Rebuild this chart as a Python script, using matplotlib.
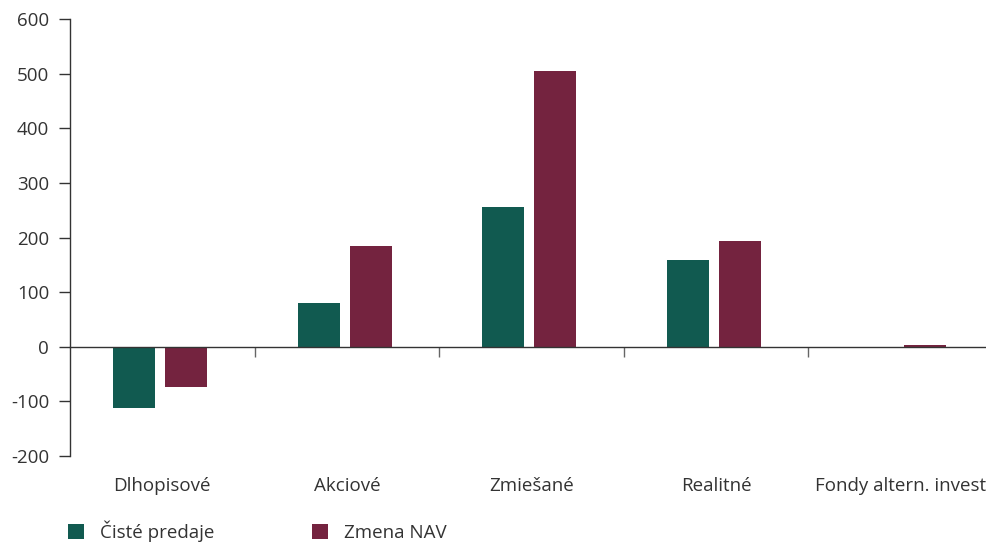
import matplotlib
matplotlib.use("Agg")
import matplotlib.pyplot as plt
import matplotlib.transforms as mtransforms
from matplotlib.patches import Patch
import numpy as np

categories = ["Dlhopisové", "Akciové", "Zmiešané", "Realitné", "Fondy altern. invest"]
ciste_predaje = [-112, 81, 256, 159, 0]
zmena_nav = [-73, 185, 505, 194, 3]
series_names = ["Čisté predaje", "Zmena NAV"]
y_ticks = [-200, -100, 0, 100, 200, 300, 400, 500, 600]

GREEN = "#115A50"
RED = "#74233F"
INK = "#333333"
FS = 13.5

plt.rcParams["font.family"] = ["Open Sans", "DejaVu Sans"]

fig = plt.figure(figsize=(9.86, 5.43), dpi=100)
ax = fig.add_axes([0.071, 0.160, 0.936, 0.805])

x = np.arange(len(categories))
w = 0.228
ax.bar(x - 0.152, ciste_predaje, width=w, color=GREEN, zorder=2)
ax.bar(x + 0.130, zmena_nav, width=w, color=RED, zorder=2)

ax.set_xlim(-0.5, len(categories) - 0.5)
ax.set_ylim(-200, 600)
ax.set_yticks(y_ticks)
ax.set_yticklabels([str(v) for v in y_ticks])

for s in ["top", "right"]:
    ax.spines[s].set_visible(False)
ax.spines["left"].set_color(INK)
ax.spines["left"].set_linewidth(1.0)
ax.spines["bottom"].set_position(("data", 0))
ax.spines["bottom"].set_color(INK)
ax.spines["bottom"].set_linewidth(1.0)
ax.spines["bottom"].set_zorder(3)

ax.tick_params(axis="y", direction="out", length=8, width=1.0, color=INK,
               labelcolor=INK, labelsize=FS, pad=7)
ax.set_xticks(np.arange(0.5, len(categories) - 0.5, 1.0))
ax.tick_params(axis="x", direction="out", length=7, width=1.0, color="#666666",
               labelbottom=False)

trans = mtransforms.blended_transform_factory(ax.transData, ax.transAxes)
for i, c in enumerate(categories):
    ax.text(i, -0.068, c, transform=trans, ha="center", va="center",
            fontsize=FS, color=INK)

handles = [Patch(facecolor=GREEN, label=series_names[0]),
           Patch(facecolor=RED, label=series_names[1])]
fig.legend(handles=handles, loc="lower left", bbox_to_anchor=(0.052, -0.029),
           ncol=2, frameon=False, fontsize=FS, handlelength=0.85,
           handleheight=0.85, handletextpad=0.85, columnspacing=5.2,
           labelcolor=INK)

fig.savefig("out.png", dpi=100)
